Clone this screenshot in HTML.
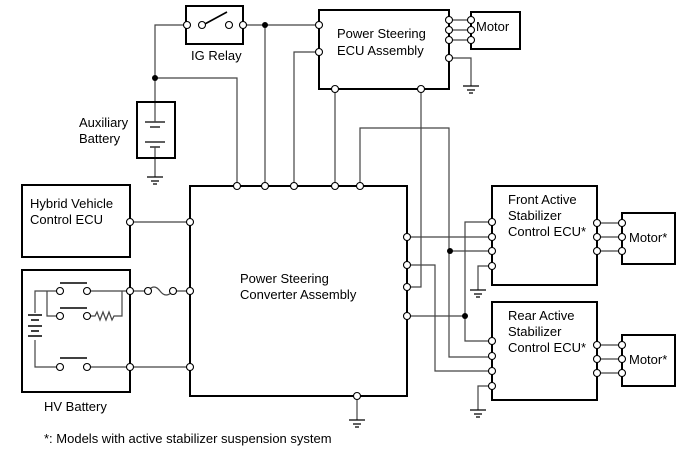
<!DOCTYPE html>
<html><head><style>
html,body{margin:0;padding:0;background:#fff;}
svg{display:block;}
text{font-family:"Liberation Sans",Arial,sans-serif;font-size:13px;fill:#000;}
.b{fill:none;stroke:#000;stroke-width:2;}
.w{fill:none;stroke:#444;stroke-width:1.2;}
.c{fill:#fff;stroke:#000;stroke-width:1.1;}
</style></head><body>
<svg width="690" height="465" viewBox="0 0 690 465">
<!-- wires -->
<g class="w">
<path d="M187 25H155V102M155 158V177"/>
<path d="M155 78H237V186"/>
<path d="M243 25H319"/>
<path d="M265 25V186"/>
<path d="M319 52H294V186"/>
<path d="M335 89V186"/>
<path d="M421 89V287H407"/>
<path d="M360 186V128H449V357H492"/>
<path d="M449 20H471M449 30H471M449 40H471"/>
<path d="M449 58H471V86"/>
<path d="M130 222H190"/>
<path d="M130 291H148M173 291H190"/>
<path d="M148 291q6 -8 12 0t13 0"/>
<path d="M130 367H190"/>
<path d="M407 237H492"/>
<path d="M407 265H435V371H492"/>
<path d="M407 316H465"/>
<path d="M492 222H465V341H492"/>
<path d="M450 251H492"/>
<path d="M492 266H478V290M492 386H478V410"/>
<path d="M597 223H622M597 237H622M597 251H622"/>
<path d="M597 345H622M597 359H622M597 373H622"/>
<path d="M357 396V420"/>
<!-- HV internals -->
<path d="M130 291H87M60 291H35V313M35 340V367H60M87 367H130"/>
<path d="M47 291V316H60M87 316H95l2-4 3 8 3-8 3 8 3-8 3 8 2-4H122V291"/>
</g>
<!-- switch bars -->
<g stroke="#000" stroke-width="1.6">
<path d="M60 283H87M60 308H87M60 358H87"/>
<path d="M203 25L227 12"/>
</g>
<!-- battery cells -->
<g stroke="#000">
<path d="M145 122H165M150 127H160M145 142H165M150 147H160" stroke-width="1.3"/>
<path d="M155 102V122M155 147V158" stroke="#444" stroke-width="1.2"/>
<path d="M28 315H42M31 320H39M28 326H42M31 331H39M28 336H42" stroke-width="1.4"/>
</g>
<!-- grounds -->
<g stroke="#000" stroke-width="1.2">
<path d="M147 177H163M151 181H159M153 184H157"/>
<path d="M463 86H479M467 90H475M469 93H473"/>
<path d="M349 420H365M353 424H361M355 427H359"/>
<path d="M470 290H486M474 294H482M476 297H480"/>
<path d="M470 410H486M474 414H482M476 417H480"/>
</g>
<!-- boxes -->
<g class="b">
<rect x="186" y="6" width="57" height="38"/>
<rect x="137" y="102" width="38" height="56"/>
<rect x="319" y="10" width="130" height="79"/>
<rect x="471" y="12" width="49" height="37"/>
<rect x="22" y="185" width="108" height="72"/>
<rect x="22" y="270" width="108" height="122"/>
<rect x="190" y="186" width="217" height="210"/>
<rect x="492" y="186" width="105" height="99"/>
<rect x="492" y="302" width="105" height="98"/>
<rect x="622" y="213" width="53" height="51"/>
<rect x="622" y="335" width="53" height="51"/>
</g>
<!-- dots -->
<g fill="#000"><circle cx="155" cy="78" r="3"/><circle cx="265" cy="25" r="3"/><circle cx="450" cy="251" r="3"/><circle cx="465" cy="316" r="3"/></g>
<!-- terminals -->
<g class="c">
<circle cx="187" cy="25" r="3.5"/><circle cx="202" cy="25" r="3.5"/><circle cx="229" cy="25" r="3.5"/><circle cx="243" cy="25" r="3.5"/>
<circle cx="319" cy="25" r="3.5"/><circle cx="319" cy="52" r="3.5"/><circle cx="335" cy="89" r="3.5"/><circle cx="421" cy="89" r="3.5"/>
<circle cx="449" cy="20" r="3.5"/><circle cx="449" cy="30" r="3.5"/><circle cx="449" cy="40" r="3.5"/><circle cx="449" cy="58" r="3.5"/>
<circle cx="471" cy="20" r="3.5"/><circle cx="471" cy="30" r="3.5"/><circle cx="471" cy="40" r="3.5"/>
<circle cx="237" cy="186" r="3.5"/><circle cx="265" cy="186" r="3.5"/><circle cx="294" cy="186" r="3.5"/><circle cx="335" cy="186" r="3.5"/><circle cx="360" cy="186" r="3.5"/>
<circle cx="130" cy="222" r="3.5"/><circle cx="190" cy="222" r="3.5"/>
<circle cx="130" cy="291" r="3.5"/><circle cx="148" cy="291" r="3.5"/><circle cx="173" cy="291" r="3.5"/><circle cx="190" cy="291" r="3.5"/>
<circle cx="130" cy="367" r="3.5"/><circle cx="190" cy="367" r="3.5"/>
<circle cx="60" cy="291" r="3.5"/><circle cx="87" cy="291" r="3.5"/><circle cx="60" cy="316" r="3.5"/><circle cx="87" cy="316" r="3.5"/><circle cx="60" cy="367" r="3.5"/><circle cx="87" cy="367" r="3.5"/>
<circle cx="357" cy="396" r="3.5"/>
<circle cx="407" cy="237" r="3.5"/><circle cx="407" cy="265" r="3.5"/><circle cx="407" cy="287" r="3.5"/><circle cx="407" cy="316" r="3.5"/>
<circle cx="492" cy="222" r="3.5"/><circle cx="492" cy="237" r="3.5"/><circle cx="492" cy="251" r="3.5"/><circle cx="492" cy="266" r="3.5"/>
<circle cx="492" cy="341" r="3.5"/><circle cx="492" cy="356" r="3.5"/><circle cx="492" cy="371" r="3.5"/><circle cx="492" cy="386" r="3.5"/>
<circle cx="597" cy="223" r="3.5"/><circle cx="597" cy="237" r="3.5"/><circle cx="597" cy="251" r="3.5"/>
<circle cx="622" cy="223" r="3.5"/><circle cx="622" cy="237" r="3.5"/><circle cx="622" cy="251" r="3.5"/>
<circle cx="597" cy="345" r="3.5"/><circle cx="597" cy="359" r="3.5"/><circle cx="597" cy="373" r="3.5"/>
<circle cx="622" cy="345" r="3.5"/><circle cx="622" cy="359" r="3.5"/><circle cx="622" cy="373" r="3.5"/>
</g>
<!-- labels -->
<text x="191" y="60">IG Relay</text>
<text x="79" y="127">Auxiliary</text>
<text x="79" y="143">Battery</text>
<text x="337" y="38">Power Steering</text>
<text x="337" y="55">ECU Assembly</text>
<text x="476" y="31">Motor</text>
<text x="30" y="208">Hybrid Vehicle</text>
<text x="30" y="224">Control ECU</text>
<text x="240" y="283">Power Steering</text>
<text x="240" y="299">Converter Assembly</text>
<text x="44" y="411">HV Battery</text>
<text x="44" y="443">*: Models with active stabilizer suspension system</text>
<text x="508" y="204">Front Active</text>
<text x="508" y="220">Stabilizer</text>
<text x="508" y="236">Control ECU*</text>
<text x="508" y="320">Rear Active</text>
<text x="508" y="336">Stabilizer</text>
<text x="508" y="352">Control ECU*</text>
<text x="629" y="242">Motor*</text>
<text x="629" y="364">Motor*</text>
</svg>
</body></html>
